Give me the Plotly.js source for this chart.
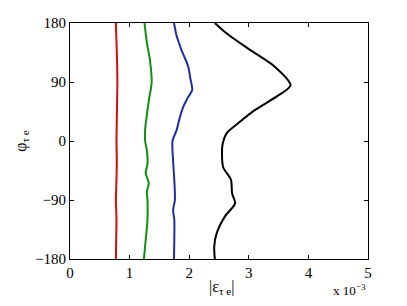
<!DOCTYPE html>
<html><head><meta charset="utf-8">
<script src="https://cdn.plot.ly/plotly-3.0.1.min.js"></script>
<style>body{margin:0;padding:0;background:#fff}#chart{width:407px;height:306px}</style>
</head><body><div id="chart"></div>
<script>
// |eps_tau_e| in units of 1e-3, phi_tau_e in degrees
const phiRed   = [180, 150, 120, 90, 60, 30, 0, -30, -60, -90, -120, -150, -180];
const epsRed   = [0.77, 0.78, 0.79, 0.795, 0.79, 0.785, 0.78, 0.785, 0.78, 0.77, 0.78, 0.775, 0.77];

const phiGreen = [180, 150, 124, 90, 63, 40, 17, 0, -14, -35, -49, -64, -78, -90, -120, -151, -180];
const epsGreen = [1.25, 1.29, 1.34, 1.37, 1.325, 1.29, 1.26, 1.26, 1.29, 1.30, 1.27, 1.32, 1.29, 1.30, 1.30, 1.27, 1.24];

const phiBlue  = [180, 160, 139, 113, 95, 78, 65, 52, 35, 17, 0, -30, -60, -90, -105, -120, -150, -180];
const epsBlue  = [1.745, 1.79, 1.87, 1.985, 2.02, 2.05, 1.97, 1.90, 1.84, 1.79, 1.72, 1.73, 1.75, 1.76, 1.73, 1.75, 1.75, 1.745];

const phiBlack = [180, 164, 139, 113, 85, 68, 47, 27, 12, -5, -20, -40, -59, -80, -95, -115, -141, -161, -180];
const epsBlack = [2.43, 2.63, 3.02, 3.44, 3.70, 3.47, 3.10, 2.82, 2.63, 2.56, 2.55, 2.57, 2.70, 2.72, 2.77, 2.60, 2.46, 2.42, 2.43];

const xTicks = [0, 1, 2, 3, 4, 5];
const yTicks = [-180, -90, 0, 90, 180];
const yTickText = ['\u2212180', '\u221290', '0', '90', '180'];

const mk = (x, y, c) => ({x: x, y: y, type: 'scatter', mode: 'lines',
  line: {color: c, width: 2, shape: 'spline', smoothing: 0.8}, hoverinfo: 'none'});

const data = [
  mk(epsRed, phiRed, '#d01010'),
  mk(epsGreen, phiGreen, '#109010'),
  mk(epsBlue, phiBlue, '#2030a0'),
  mk(epsBlack, phiBlack, '#000000')
];

const FAM = "'Liberation Serif', 'Times New Roman', Times, serif";
const font = {family: FAM, size: 15, color: '#000'};
const layout = {
  width: 407, height: 306,
  margin: {l: 70, r: 39, t: 23, b: 47, pad: 0},
  paper_bgcolor: '#fff', plot_bgcolor: '#fff',
  showlegend: false,
  font: font,
  xaxis: {range: [0, 5], tickvals: xTicks, ticktext: xTicks.map(String), ticks: 'inside', ticklen: 4,
    tickcolor: '#000', linecolor: '#000', linewidth: 1, mirror: 'ticks', showgrid: false, zeroline: false,
    showline: true, tickfont: font, title: {text: ''}},
  yaxis: {range: [-180, 180], tickvals: yTicks, ticktext: yTickText, ticks: 'inside', ticklen: 4,
    tickcolor: '#000', linecolor: '#000', linewidth: 1, mirror: 'ticks', showgrid: false, zeroline: false,
    showline: true, tickfont: font, title: {text: ''}},
  annotations: [
    {text: '|\u03b5<sub>\u03c4 e</sub>|', xref: 'paper', yref: 'paper', x: 0.51, y: -0.12,
     xanchor: 'center', yanchor: 'middle', showarrow: false, font: {family: FAM, size: 16, color: '#000'}},
    {text: '\u03c6<sub>\u03c4 e</sub>', xref: 'paper', yref: 'paper', x: -0.165, y: 0.5, textangle: -90,
     xanchor: 'center', yanchor: 'middle', showarrow: false, font: {family: FAM, size: 16, color: '#000'}},
    {text: 'x 10<sup>\u22123</sup>', xref: 'paper', yref: 'paper', x: 1.0, y: -0.13,
     xanchor: 'right', yanchor: 'middle', showarrow: false, font: {family: FAM, size: 13, color: '#000'}}
  ]
};
Plotly.newPlot('chart', data, layout, {displayModeBar: false, staticPlot: true});
</script></body></html>
